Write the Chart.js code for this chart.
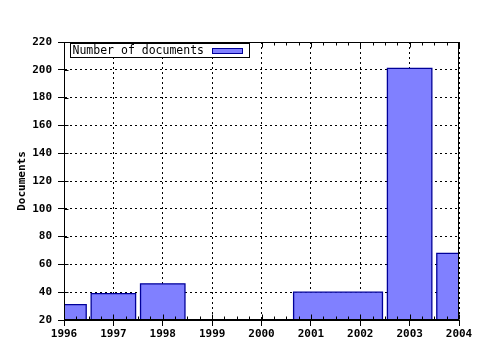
<!DOCTYPE html>
<html lang="en">
<head>
<meta charset="UTF-8" />
<title>Documents per year</title>
<script src="https://cdn.jsdelivr.net/npm/chart.js@4"></script>
<style>
  body { margin: 0; background: #fff; }
</style>
</head>
<body>
<canvas id="myChart" width="480" height="350"></canvas>
<script>
// data
const yearTicks = [1996, 1997, 1998, 1999, 2000, 2001, 2002, 2003, 2004];
const docTicks = [20, 40, 60, 80, 100, 120, 140, 160, 180, 200, 220];
const barStart = [1995.55, 1996.55, 1997.55, 2000.65, 2002.55, 2003.55];
const barEnd = [1996.45, 1997.45, 1998.45, 2002.45, 2003.45, 2004.45];
const documents = [31, 39, 46, 40, 201, 68];
const seriesLabel = "Number of documents";

const MONO = "'DejaVu Sans Mono', 'Liberation Mono', monospace";
const FILL = "#8080ff";
const EDGE = "#000099";
const yMin = docTicks[0];

// one filled outline per bar, so each bar keeps its own width on the linear year axis
const datasets = documents.map((v, i) => ({
  label: seriesLabel,
  data: [
    { x: barStart[i], y: yMin },
    { x: barStart[i], y: v },
    { x: barEnd[i], y: v },
    { x: barEnd[i], y: yMin },
  ],
  borderColor: EDGE,
  borderWidth: 1.3,
  backgroundColor: FILL,
  fill: "origin",
  pointRadius: 0,
  tension: 0,
  clip: 0,
}));

const framePlugin = {
  id: "frame",
  afterDatasetsDraw(chart) {
    const { ctx, chartArea: a, scales } = chart;
    ctx.save();
    ctx.strokeStyle = "#000";
    ctx.lineWidth = 1;
    ctx.setLineDash([]);
    const l = Math.round(a.left) + 0.5, r = Math.round(a.right) - 0.5;
    const t = Math.round(a.top) + 0.5, b = Math.round(a.bottom) - 0.5;
    ctx.strokeRect(l, t, r - l, b - t);

    // quarter-year minor ticks on bottom and top edges
    ctx.beginPath();
    for (let y = yearTicks[0]; y <= yearTicks[yearTicks.length - 1] + 1e-6; y += 0.25) {
      const px = Math.round(scales.x.getPixelForValue(y)) + 0.5;
      const len = Math.abs(y - Math.round(y)) < 1e-6 ? 5 : 3;
      ctx.moveTo(px, b); ctx.lineTo(px, b - len);
      ctx.moveTo(px, t); ctx.lineTo(px, t + len);
    }
    // small inside ticks on the value axis
    docTicks.forEach(v => {
      const py = Math.round(scales.y.getPixelForValue(v)) + 0.5;
      ctx.moveTo(l, py); ctx.lineTo(l + 4, py);
    });
    ctx.stroke();

    // legend box inside the plot, top-left
    const lx = l + 6, ly = t + 1, lw = 179, lh = 14;
    ctx.fillStyle = "#fff";
    ctx.fillRect(lx, ly, lw, lh);
    ctx.strokeRect(lx, ly, lw, lh);
    ctx.fillStyle = "#000";
    ctx.font = "11.5px " + MONO;
    ctx.textBaseline = "middle";
    ctx.textAlign = "left";
    ctx.fillText(seriesLabel, lx + 2, ly + lh / 2 + 0.5);
    ctx.fillStyle = FILL;
    ctx.fillRect(lx + 142, ly + 5, 30, 5);
    ctx.strokeStyle = EDGE;
    ctx.strokeRect(lx + 142, ly + 5, 30, 5);
    ctx.restore();
  },
};

const bgPlugin = {
  id: "bg",
  beforeDraw(chart) {
    const { ctx, width, height } = chart;
    ctx.save();
    ctx.fillStyle = "#fff";
    ctx.fillRect(0, 0, width, height);
    ctx.restore();
  },
};

const gridStyle = {
  color: "#000",
  lineWidth: 1,
  tickBorderDash: [],
  tickColor: "#000",
  tickLength: 6,
};
const borderStyle = { display: true, color: "#000", width: 1, dash: [2, 3] };

new Chart(document.getElementById("myChart").getContext("2d"), {
  type: "line",
  data: { datasets },
  options: {
    responsive: false,
    animation: false,
    layout: { padding: { left: 0, top: 42, right: 21, bottom: 0 } },
    plugins: { legend: { display: false }, tooltip: { enabled: false } },
    scales: {
      x: {
        type: "linear",
        min: yearTicks[0],
        max: yearTicks[yearTicks.length - 1],
        afterBuildTicks: s => { s.ticks = yearTicks.map(v => ({ value: v })); },
        afterFit: s => { s.height = 30; },
        grid: gridStyle,
        border: borderStyle,
        ticks: {
          color: "#000",
          padding: 2,
          maxRotation: 0,
          autoSkip: false,
          font: { family: MONO, size: 11, weight: "bold" },
          callback: v => String(v),
        },
      },
      y: {
        type: "linear",
        min: yMin,
        max: docTicks[docTicks.length - 1],
        afterBuildTicks: s => { s.ticks = docTicks.map(v => ({ value: v })); },
        afterFit: s => { s.width = 64; },
        grid: gridStyle,
        border: borderStyle,
        title: {
          display: true,
          text: "Documents",
          color: "#000",
          padding: { top: 16, bottom: 0 },
          font: { family: MONO, size: 11, weight: "bold" },
        },
        ticks: {
          color: "#000",
          padding: 6,
          autoSkip: false,
          font: { family: MONO, size: 11, weight: "bold" },
        },
      },
    },
  },
  plugins: [bgPlugin, framePlugin],
});
</script>
</body>
</html>
